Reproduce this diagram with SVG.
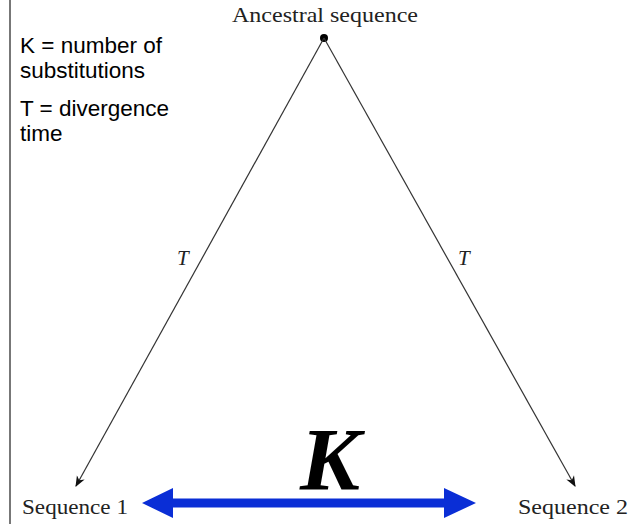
<svg xmlns="http://www.w3.org/2000/svg" width="633" height="524" viewBox="0 0 633 524">
<style>
.serif{font-family:"Liberation Serif","DejaVu Serif",serif;fill:#222;font-size:21px}
.sans{font-family:"Liberation Sans",Arial,sans-serif;font-size:22.5px;fill:#000}
.edge{stroke:#333;stroke-width:1.2;fill:none}
</style>
<defs>
<marker id="ah" viewBox="0 0 10 10" refX="9" refY="5" markerWidth="11" markerHeight="11" markerUnits="userSpaceOnUse" orient="auto">
<path d="M0,1 L10,5 L0,9 L3,5 Z" fill="#111"/>
</marker>
</defs>
<rect width="633" height="524" fill="#fff"/>
<line x1="10" y1="0" x2="10" y2="524" stroke="#777" stroke-width="2"/>
<g id="legend">
<text class="sans" x="20" y="53">K = number of</text>
<text class="sans" x="20" y="78">substitutions</text>
<text class="sans" x="20" y="116">T = divergence</text>
<text class="sans" x="20" y="141">time</text>
</g>
<g id="ancestral">
<circle cx="324" cy="38" r="4" fill="#000"/>
<text class="serif" x="232" y="22" textLength="186" lengthAdjust="spacingAndGlyphs">Ancestral sequence</text>
</g>
<g id="seq1">
<text class="serif" x="22" y="514" textLength="106" lengthAdjust="spacingAndGlyphs">Sequence 1</text>
</g>
<g id="seq2">
<text class="serif" x="518" y="514" textLength="110" lengthAdjust="spacingAndGlyphs">Sequence 2</text>
</g>
<g id="connectors">
<line class="edge" x1="324" y1="38" x2="76" y2="486" marker-end="url(#ah)"/>
<line class="edge" x1="324" y1="38" x2="575" y2="486" marker-end="url(#ah)"/>
<text class="serif" x="177" y="265" font-size="22" font-style="italic">T</text>
<text class="serif" x="458" y="265" font-size="22" font-style="italic">T</text>
<path d="M142,503 L173,488 L173,498.5 L444,498.5 L444,488 L476,503 L444,518 L444,507.5 L173,507.5 L173,518 Z" fill="#0a2ed6"/>
<text x="300" y="489" textLength="60" lengthAdjust="spacingAndGlyphs" font-family="Liberation Serif,serif" font-size="88" font-weight="bold" font-style="italic" fill="#000">K</text>
</g>
</svg>
